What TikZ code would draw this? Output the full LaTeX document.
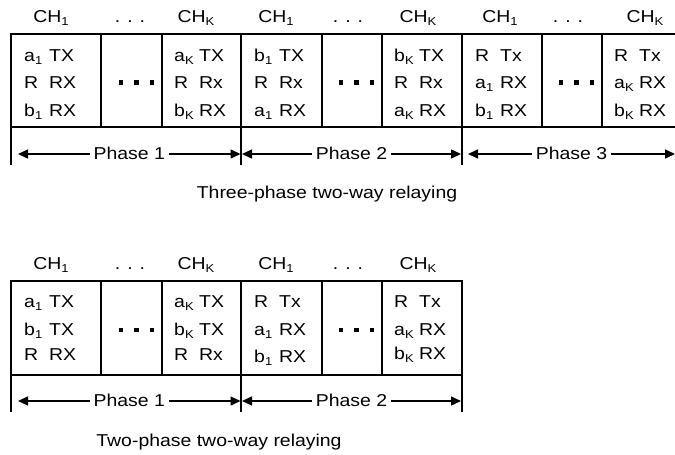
\documentclass[tikz,border=0pt]{standalone}
\usepackage{fontspec}
\setmainfont{Liberation Sans}[FakeStretch=1.13]
\usetikzlibrary{arrows.meta}
\newcommand\rowtxt[2]{\makebox[25pt][l]{#1}#2}
\newcommand\hdots{.\hspace{7pt}.\hspace{7pt}.}
\newcommand\sbs[1]{\raisebox{-3.2pt}{\fontsize{11.5}{12}\selectfont #1}}
\begin{document}
\begin{tikzpicture}[x=1pt,y=-1pt,
  every node/.style={font=\fontsize{17.2}{19}\selectfont, inner sep=0pt},
  celltxt/.style={anchor=base west},
  hdr/.style={anchor=base},
  frame/.style={line width=1.8pt},
  phasearrow/.style={line width=1.4pt, {Triangle[length=10pt,width=9pt]}-{Triangle[length=10pt,width=9pt]}},
  phaselbl/.style={fill=white, inner xsep=4pt, inner ysep=2pt},
  sq/.style={fill=black}]
\useasboundingbox (0,0) rectangle (675,455);
% ---------- top diagram ----------
\draw[frame] (675,34) -- (11,34) -- (11,127) -- (675,127);
\foreach \x in {101,162,241,322,382,462,542,602} \draw[frame] (\x,34) -- (\x,127);
\foreach \x in {11,241,462} \draw[frame] (\x,127) -- (\x,165);
% headers
\node[hdr] (t1) at (51,22) {CH\sbs{1}};
\node[hdr] (t2) at (130,22) {\hdots};
\node[hdr] (t3) at (196,22) {CH\sbs{K}};
\node[hdr] (t4) at (276,22) {CH\sbs{1}};
\node[hdr] (t5) at (348,22) {\hdots};
\node[hdr] (t6) at (418,22) {CH\sbs{K}};
\node[hdr] (t7) at (500,22) {CH\sbs{1}};
\node[hdr] (t8) at (568,22) {\hdots};
\node[hdr] (t9) at (645,22) {CH\sbs{K}};
% cells phase 1
\node[celltxt] (a1) at (24,61) {\rowtxt{a\sbs{1}}{TX}};
\node[celltxt] (a2) at (24,88.5) {\rowtxt{R}{RX}};
\node[celltxt] (a3) at (24,116) {\rowtxt{b\sbs{1}}{RX}};
\node[celltxt] (a4) at (174,61) {\rowtxt{a\sbs{K}}{TX}};
\node[celltxt] (a5) at (174,88.5) {\rowtxt{R}{Rx}};
\node[celltxt] (a6) at (174,116) {\rowtxt{b\sbs{K}}{RX}};
% cells phase 2
\node[celltxt] (b1) at (254,61) {\rowtxt{b\sbs{1}}{TX}};
\node[celltxt] (b2) at (254,88.5) {\rowtxt{R}{Rx}};
\node[celltxt] (b3) at (254,116) {\rowtxt{a\sbs{1}}{RX}};
\node[celltxt] (b4) at (394,61) {\rowtxt{b\sbs{K}}{TX}};
\node[celltxt] (b5) at (394,88.5) {\rowtxt{R}{Rx}};
\node[celltxt] (b6) at (394,116) {\rowtxt{a\sbs{K}}{RX}};
% cells phase 3
\node[celltxt] (c1) at (475,61) {\rowtxt{R}{Tx}};
\node[celltxt] (c2) at (475,88.5) {\rowtxt{a\sbs{1}}{RX}};
\node[celltxt] (c3) at (475,116) {\rowtxt{b\sbs{1}}{RX}};
\node[celltxt] (c4) at (614,61) {\rowtxt{R}{Tx}};
\node[celltxt] (c5) at (614,88.5) {\rowtxt{a\sbs{K}}{RX}};
\node[celltxt] (c6) at (614,116) {\rowtxt{b\sbs{K}}{RX}};
% dots in middle cells
\foreach \r in {162,382,602}
  \foreach \d in {10,25.5,41}
    \fill[sq] (\r-\d-2.4,80.2) rectangle (\r-\d+2.4,85);
% phase arrows
\coordinate (p1l) at (18,154); \coordinate (p1r) at (240.5,154);
\coordinate (p2l) at (242,154); \coordinate (p2r) at (461,154);
\coordinate (p3l) at (468,154); \coordinate (p3r) at (675,154);
\draw[phasearrow] (p1l) -- (p1r) node[midway, phaselbl, yshift=0.5pt] (ph1) {Phase 1};
\draw[phasearrow] (p2l) -- (p2r) node[midway, phaselbl, yshift=0.5pt] (ph2) {Phase 2};
\draw[phasearrow] (p3l) -- (p3r) node[midway, phaselbl, yshift=0.5pt] (ph3) {Phase 3};
\node[anchor=base] (cap1) at (327,198) {Three-phase two-way relaying};
% ---------- bottom diagram ----------
\draw[frame] (11,281) rectangle (462,375);
\foreach \x in {101,162,241,322,382} \draw[frame] (\x,281) -- (\x,375);
\foreach \x in {11,241,462} \draw[frame] (\x,375) -- (\x,412);
\node[hdr] (u1) at (51,269.5) {CH\sbs{1}};
\node[hdr] (u2) at (130,269.5) {\hdots};
\node[hdr] (u3) at (196,269.5) {CH\sbs{K}};
\node[hdr] (u4) at (276,269.5) {CH\sbs{1}};
\node[hdr] (u5) at (348,269.5) {\hdots};
\node[hdr] (u6) at (418,269.5) {CH\sbs{K}};
\node[celltxt] (d1) at (24,307) {\rowtxt{a\sbs{1}}{TX}};
\node[celltxt] (d2) at (24,335) {\rowtxt{b\sbs{1}}{TX}};
\node[celltxt] (d3) at (24,360) {\rowtxt{R}{RX}};
\node[celltxt] (d4) at (174,307) {\rowtxt{a\sbs{K}}{TX}};
\node[celltxt] (d5) at (174,335) {\rowtxt{b\sbs{K}}{TX}};
\node[celltxt] (d6) at (174,360) {\rowtxt{R}{Rx}};
\node[celltxt] (e1) at (254,307) {\rowtxt{R}{Tx}};
\node[celltxt] (e2) at (254,335.5) {\rowtxt{a\sbs{1}}{RX}};
\node[celltxt] (e3) at (254,362) {\rowtxt{b\sbs{1}}{RX}};
\node[celltxt] (e4) at (394,307) {\rowtxt{R}{Tx}};
\node[celltxt] (e5) at (394,335.5) {\rowtxt{a\sbs{K}}{RX}};
\node[celltxt] (e6) at (394,359) {\rowtxt{b\sbs{K}}{RX}};
\foreach \r in {162,382}
  \foreach \d in {10,25.5,41}
    \fill[sq] (\r-\d-2.4,327.6) rectangle (\r-\d+2.4,332.4);
\coordinate (q1l) at (18,401); \coordinate (q1r) at (240.5,401);
\coordinate (q2l) at (242,401); \coordinate (q2r) at (461,401);
\draw[phasearrow] (q1l) -- (q1r) node[midway, phaselbl, yshift=0.5pt] (qh1) {Phase 1};
\draw[phasearrow] (q2l) -- (q2r) node[midway, phaselbl, yshift=0.5pt] (qh2) {Phase 2};
\node[anchor=base] (cap2) at (219,446.5) {Two-phase two-way relaying};
\end{tikzpicture}
\end{document}
